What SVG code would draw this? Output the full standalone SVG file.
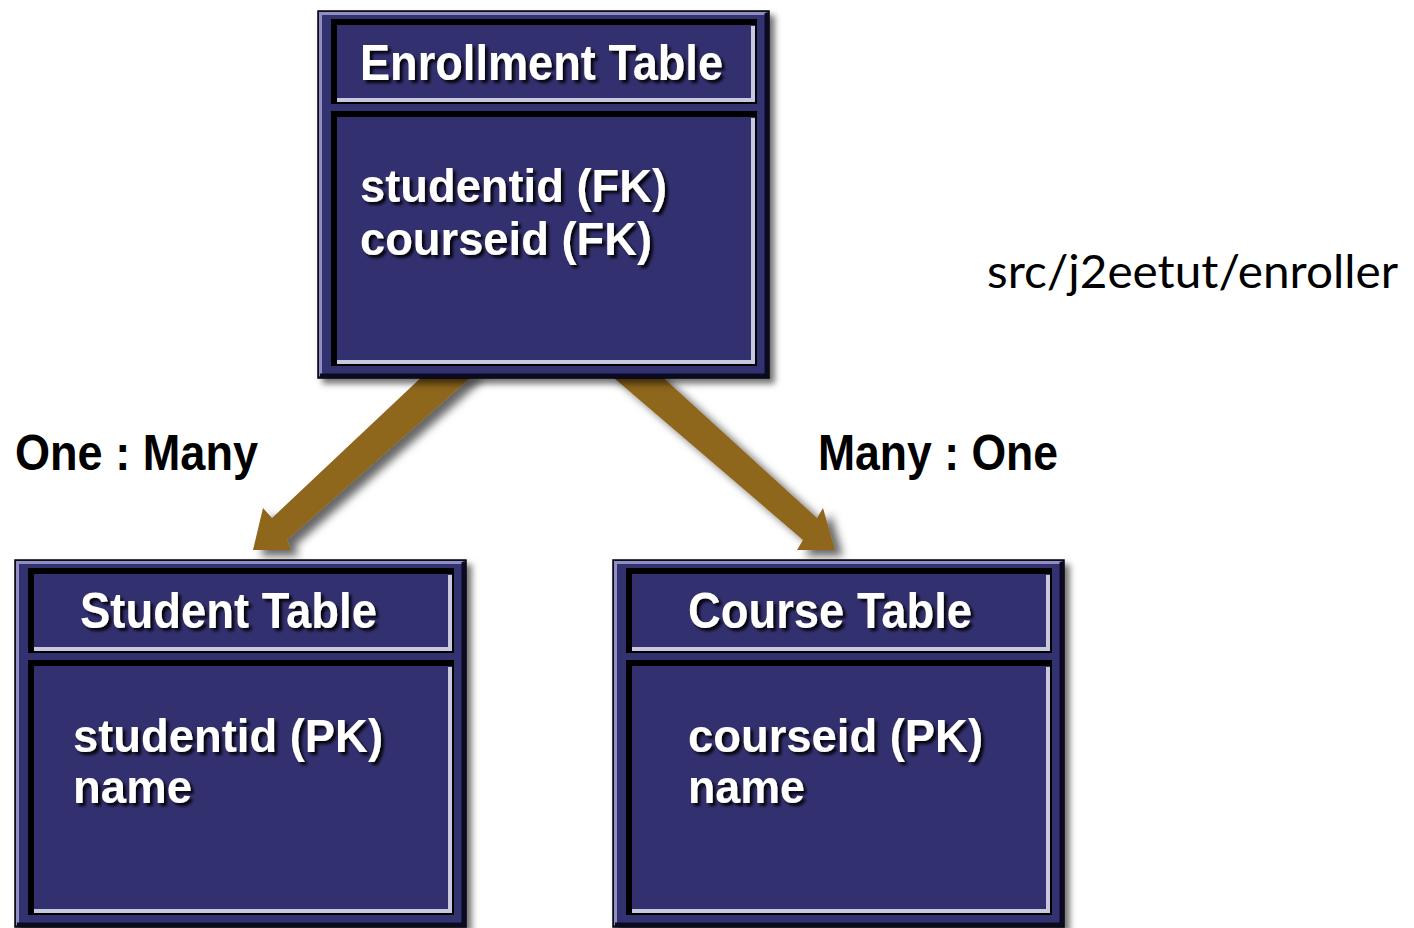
<svg xmlns="http://www.w3.org/2000/svg" xmlns:xlink="http://www.w3.org/1999/xlink" width="1414" height="928" viewBox="0 0 1414 928">
  <style>
    .title { font-family: "Liberation Sans", Arial, sans-serif; font-weight: bold; font-size: 50px; fill: #ffffff; }
    .field { font-family: "Liberation Sans", Arial, sans-serif; font-weight: bold; font-size: 47px; fill: #ffffff; }
    .label { font-family: "Liberation Sans", Arial, sans-serif; font-weight: bold; font-size: 50px; fill: #000000; }
    .path { font-family: Lato, "Open Sans", sans-serif; font-size: 46px; fill: #000000; }
    .arrow { fill: #8e661c; }
  </style>
  <defs>
    <filter id="boxShadow" x="-10%" y="-10%" width="125%" height="125%">
      <feDropShadow dx="5" dy="5" stdDeviation="3" flood-color="#000" flood-opacity="0.55"/>
    </filter>
    <filter id="arrowShadow" x="-20%" y="-20%" width="150%" height="150%">
      <feDropShadow dx="8" dy="6" stdDeviation="4" flood-color="#000" flood-opacity="0.6"/>
    </filter>
    <filter id="textShadow" x="-10%" y="-20%" width="125%" height="150%">
      <feDropShadow dx="3" dy="3" stdDeviation="1.5" flood-color="#000" flood-opacity="0.9"/>
    </filter>
    <g id="panelHeader">
      <rect x="14" y="9" width="424" height="83" fill="#33306f" stroke="#000" stroke-width="2"/>
      <polyline points="18,89 435,89 435,15" fill="none" stroke="#c8c8de" stroke-width="4"/>
      <polyline points="16,91 16,11 437,11" fill="none" stroke="#000" stroke-width="6"/>
    </g>
    <g id="panelBody">
      <rect x="14" y="101" width="424" height="253" fill="#33306f" stroke="#000" stroke-width="2"/>
      <polyline points="18,351 435,351 435,107" fill="none" stroke="#c8c8de" stroke-width="4"/>
      <polyline points="16,353 16,103 437,103" fill="none" stroke="#000" stroke-width="6"/>
    </g>
    <g id="frame">
      <rect x="0" y="0" width="451" height="367" fill="#33306f" stroke="#000" stroke-width="1.5" filter="url(#boxShadow)"/>
      <polyline points="2.5,365 2.5,2.5 448,2.5" fill="none" stroke="#8f8dc2" stroke-width="3"/>
      <polyline points="448.5,2 448.5,364.5 2,364.5" fill="none" stroke="#0b0a22" stroke-width="4"/>
      <use xlink:href="#panelHeader"/>
      <use xlink:href="#panelBody"/>
    </g>
  </defs>

  <rect width="1414" height="928" fill="#ffffff"/>

  <g id="connectors">
    <path class="arrow" filter="url(#arrowShadow)" d="M427,372 L477,372 L287,540 L291,550 L253,550 L263,508 L272,518 Z"/>
    <path class="arrow" filter="url(#arrowShadow)" d="M607,372 L657,372 L817,518 L823,508 L835,550 L797,550 L803,540 Z"/>
    <text class="label" x="15" y="470" textLength="243" lengthAdjust="spacingAndGlyphs">One : Many</text>
    <text class="label" x="818" y="470" textLength="240" lengthAdjust="spacingAndGlyphs">Many : One</text>
  </g>

  <g id="enrollment-table">
    <use xlink:href="#frame" x="318" y="11"/>
    <g filter="url(#textShadow)">
      <text class="title" x="360" y="80" textLength="363" lengthAdjust="spacingAndGlyphs">Enrollment Table</text>
      <text class="field" x="360" y="202" textLength="307" lengthAdjust="spacingAndGlyphs">studentid (FK)</text>
      <text class="field" x="360" y="255" textLength="292" lengthAdjust="spacingAndGlyphs">courseid (FK)</text>
    </g>
  </g>

  <g id="student-table">
    <use xlink:href="#frame" x="15" y="560"/>
    <g filter="url(#textShadow)">
      <text class="title" x="80" y="628" textLength="297" lengthAdjust="spacingAndGlyphs">Student Table</text>
      <text class="field" x="73" y="752" textLength="310" lengthAdjust="spacingAndGlyphs">studentid (PK)</text>
      <text class="field" x="73" y="803" textLength="119" lengthAdjust="spacingAndGlyphs">name</text>
    </g>
  </g>

  <g id="course-table">
    <use xlink:href="#frame" x="613" y="560"/>
    <g filter="url(#textShadow)">
      <text class="title" x="688" y="628" textLength="284" lengthAdjust="spacingAndGlyphs">Course Table</text>
      <text class="field" x="688" y="752" textLength="295" lengthAdjust="spacingAndGlyphs">courseid (PK)</text>
      <text class="field" x="688" y="803" textLength="117" lengthAdjust="spacingAndGlyphs">name</text>
    </g>
  </g>

  <g id="path-label">
    <text class="path" x="987" y="288" textLength="411" lengthAdjust="spacingAndGlyphs">src/j2eetut/enroller</text>
  </g>
</svg>
